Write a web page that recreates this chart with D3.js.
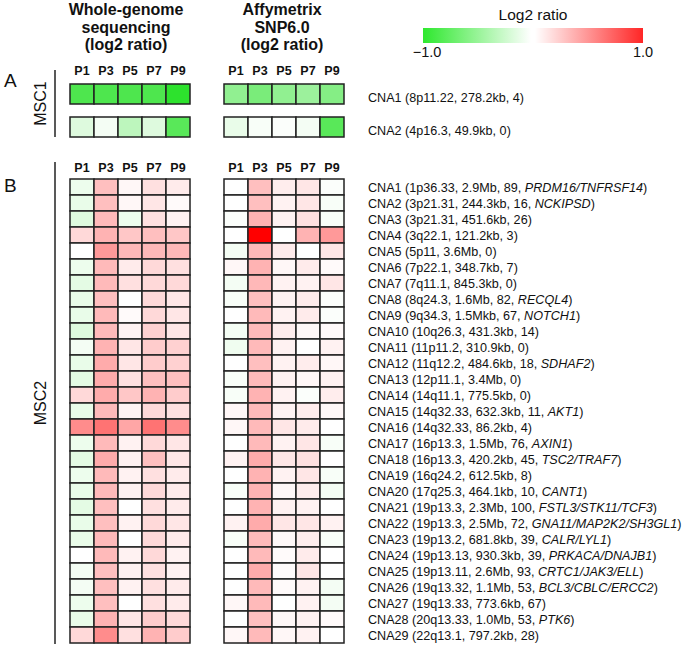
<!DOCTYPE html>
<html lang="en">
<head>
<meta charset="UTF-8">
<title>CNA heatmap</title>
<script src="https://d3js.org/d3.v7.min.js"></script>
<style>
    body { margin: 0; background: #fff; }
    text { font-family: "Liberation Sans", Arial, sans-serif; fill: #111; }
</style>
</head>
<body>
<div id="chart"></div>
<script>
    var passages = ["P1", "P3", "P5", "P7", "P9"];

    // panel A (MSC1)
    var aNames = ["CNA1", "CNA2"];
    var aLoci = ["8p11.22, 278.2kb, 4", "4p16.3, 49.9kb, 0"];
    var aGenes = ["", ""];
    var aWgs = [
        [-0.8, -0.8, -0.8, -0.8, -0.95],
        [-0.15, -0.05, -0.3, -0.15, -0.75]
    ];
    var aSnp = [
        [-0.5, -0.6, -0.5, -0.45, -0.55],
        [-0.1, -0.03, -0.02, -0.05, -0.75]
    ];

    // panel B (MSC2)
    var bNames = d3.range(1, 30).map(function (i) { return "CNA" + i; });
    var bLoci = [
        "1p36.33, 2.9Mb, 89", "3p21.31, 244.3kb, 16", "3p21.31, 451.6kb, 26", "3q22.1, 121.2kb, 3",
        "5p11, 3.6Mb, 0", "7p22.1, 348.7kb, 7", "7q11.1, 845.3kb, 0", "8q24.3, 1.6Mb, 82",
        "9q34.3, 1.5Mkb, 67", "10q26.3, 431.3kb, 14", "11p11.2, 310.9kb, 0", "11q12.2, 484.6kb, 18",
        "12p11.1, 3.4Mb, 0", "14q11.1, 775.5kb, 0", "14q32.33, 632.3kb, 11", "14q32.33, 86.2kb, 4",
        "16p13.3, 1.5Mb, 76", "16p13.3, 420.2kb, 45", "16q24.2, 612.5kb, 8", "17q25.3, 464.1kb, 10",
        "19p13.3, 2.3Mb, 100", "19p13.3, 2.5Mb, 72", "19p13.2, 681.8kb, 39", "19p13.13, 930.3kb, 39",
        "19p13.11, 2.6Mb, 93", "19q13.32, 1.1Mb, 53", "19q13.33, 773.6kb, 67", "20q13.33, 1.0Mb, 53",
        "22q13.1, 797.2kb, 28"
    ];
    var bGenes = [
        "PRDM16/TNFRSF14", "NCKIPSD", "", "", "", "", "", "RECQL4",
        "NOTCH1", "", "", "SDHAF2", "", "", "AKT1", "",
        "AXIN1", "TSC2/TRAF7", "", "CANT1", "FSTL3/STK11/TCF3", "GNA11/MAP2K2/SH3GL1", "CALR/LYL1", "PRKACA/DNAJB1",
        "CRTC1/JAK3/ELL", "BCL3/CBLC/ERCC2", "", "PTK6", ""
    ];
    var bWgs = [
        [-0.08, 0.25, 0.03, 0.12, 0.08],
        [-0.1, 0.25, 0.03, 0.1, 0.02],
        [-0.15, 0.27, -0.08, 0.12, 0.05],
        [0.15, 0.3, 0.22, 0.25, 0.22],
        [0.0, 0.4, 0.28, 0.28, 0.28],
        [-0.08, 0.27, 0.08, 0.15, 0.12],
        [-0.12, 0.27, 0.12, 0.15, 0.15],
        [-0.1, 0.25, 0.0, 0.15, 0.1],
        [-0.1, 0.27, 0.02, 0.15, 0.1],
        [-0.15, 0.27, 0.05, 0.18, 0.1],
        [-0.05, 0.3, 0.1, 0.2, 0.18],
        [-0.1, 0.33, 0.1, 0.2, 0.18],
        [-0.12, 0.33, 0.12, 0.25, 0.25],
        [0.15, 0.33, 0.22, 0.3, 0.2],
        [-0.1, 0.27, 0.05, 0.15, 0.12],
        [0.45, 0.55, 0.35, 0.55, 0.45],
        [-0.08, 0.27, 0.05, 0.15, 0.1],
        [-0.12, 0.33, 0.05, 0.25, 0.1],
        [-0.08, 0.27, 0.05, 0.12, 0.08],
        [-0.1, 0.27, 0.05, 0.15, 0.08],
        [-0.12, 0.25, 0.0, 0.12, 0.08],
        [-0.1, 0.25, 0.05, 0.15, 0.1],
        [-0.1, 0.27, 0.0, 0.15, 0.08],
        [0.0, 0.27, 0.05, 0.15, 0.05],
        [-0.05, 0.25, 0.05, 0.12, 0.05],
        [-0.05, 0.25, 0.05, 0.12, 0.08],
        [-0.08, 0.25, 0.0, 0.12, 0.08],
        [-0.1, 0.3, 0.1, 0.2, 0.15],
        [0.15, 0.45, 0.12, 0.3, 0.2]
    ];
    var bSnp = [
        [0.0, 0.25, 0.07, 0.1, -0.02],
        [0.0, 0.25, 0.05, 0.1, -0.03],
        [-0.02, 0.3, 0.05, 0.12, -0.03],
        [0.0, 1.0, 0.0, 0.3, 0.4],
        [-0.05, 0.28, 0.08, 0.0, 0.1],
        [0.03, 0.3, 0.03, 0.08, 0.02],
        [-0.05, 0.28, 0.05, 0.05, 0.1],
        [-0.03, 0.25, 0.05, 0.08, -0.02],
        [0.0, 0.27, 0.05, 0.08, -0.02],
        [-0.05, 0.27, 0.07, 0.03, 0.02],
        [-0.07, 0.27, 0.05, 0.0, 0.05],
        [0.0, 0.25, 0.05, 0.07, 0.03],
        [-0.03, 0.27, 0.05, 0.03, 0.05],
        [-0.03, 0.3, 0.05, -0.02, 0.07],
        [0.03, 0.27, 0.05, 0.07, 0.03],
        [0.03, 0.27, 0.1, 0.08, 0.0],
        [0.0, 0.27, 0.05, 0.1, -0.03],
        [0.05, 0.33, 0.1, 0.12, 0.0],
        [0.0, 0.3, 0.05, 0.1, -0.03],
        [-0.03, 0.3, 0.03, 0.07, -0.05],
        [0.0, 0.3, 0.05, 0.05, 0.0],
        [0.05, 0.33, 0.1, 0.1, 0.05],
        [-0.03, 0.27, 0.03, 0.07, -0.03],
        [0.0, 0.27, 0.02, 0.08, 0.0],
        [0.0, 0.33, 0.02, 0.1, 0.0],
        [0.0, 0.27, 0.02, 0.05, -0.05],
        [0.03, 0.27, 0.0, 0.05, -0.05],
        [0.0, 0.25, 0.03, 0.05, 0.02],
        [0.03, 0.27, 0.03, 0.05, 0.0]
    ];

    var w = 685, h = 649;
    var svg = d3.select("#chart").append("svg")
        .attr("width", w)
        .attr("height", h);

    var color = d3.scaleLinear()
        .domain([-1, 0, 1])
        .range(["#22e022", "#ffffff", "#ff0000"])
        .clamp(true);

    var xWgs = d3.scaleBand(passages, [70, 190]);
    var xSnp = d3.scaleBand(passages, [224, 344]);
    var yA = d3.scaleBand(aNames, [84, 137]).paddingInner(0.394);
    var yB = d3.scaleBand(bNames, [179, 643]);

    function drawGrid(values, names, x, y) {
        var cells = [];
        values.forEach(function (row, i) {
            row.forEach(function (v, j) {
                cells.push({ row: names[i], col: passages[j], v: v });
            });
        });
        svg.append("g").selectAll("rect")
            .data(cells)
            .enter()
            .append("rect")
            .attr("x", function (d) { return x(d.col); })
            .attr("y", function (d) { return y(d.row); })
            .attr("width", x.bandwidth())
            .attr("height", y.bandwidth())
            .attr("fill", function (d) { return color(d.v); })
            .attr("stroke", "#222")
            .attr("stroke-width", 1.5);
    }

    function colLabels(x, yPos) {
        svg.append("g").selectAll("text")
            .data(passages)
            .enter()
            .append("text")
            .attr("x", function (d) { return x(d) + x.bandwidth() / 2; })
            .attr("y", yPos)
            .attr("text-anchor", "middle")
            .style("font-size", "12.5px")
            .style("font-weight", "bold")
            .text(function (d) { return d; });
    }

    function rowLabels(names, loci, genes, y, dy) {
        var t = svg.append("g").selectAll("text")
            .data(names)
            .enter()
            .append("text")
            .attr("x", 368)
            .attr("y", function (d) { return y(d) + y.bandwidth() / 2 + dy; })
            .style("font-size", "12.6px");
        t.append("tspan").text(function (d, i) { return d + " (" + loci[i] + (genes[i] ? ", " : ""); });
        t.append("tspan").style("font-style", "italic").text(function (d, i) { return genes[i]; });
        t.append("tspan").text(")");
    }

    drawGrid(aWgs, aNames, xWgs, yA);
    drawGrid(aSnp, aNames, xSnp, yA);
    drawGrid(bWgs, bNames, xWgs, yB);
    drawGrid(bSnp, bNames, xSnp, yB);

    colLabels(xWgs, 75);
    colLabels(xSnp, 75);
    colLabels(xWgs, 172);
    colLabels(xSnp, 172);

    rowLabels(aNames, aLoci, aGenes, yA, 8);
    rowLabels(bNames, bLoci, bGenes, yB, 4.5);

    // column titles
    var titles = [
        { x: 126, lines: ["Whole-genome", "sequencing", "(log2 ratio)"] },
        { x: 282, lines: ["Affymetrix", "SNP6.0", "(log2 ratio)"] }
    ];
    titles.forEach(function (t) {
        svg.append("g").selectAll("text")
            .data(t.lines)
            .enter()
            .append("text")
            .attr("x", t.x)
            .attr("y", function (d, i) { return 15 + i * 17.5; })
            .attr("text-anchor", "middle")
            .style("font-size", "16px")
            .style("font-weight", "bold")
            .text(function (d) { return d; });
    });

    // panel letters and sample groups
    svg.append("text").attr("x", 4).attr("y", 87).style("font-size", "19px").text("A");
    svg.append("text").attr("x", 4).attr("y", 192).style("font-size", "19px").text("B");

    var groups = [
        { name: "MSC1", y0: 70, y1: 137 },
        { name: "MSC2", y0: 162, y1: 644 }
    ];
    groups.forEach(function (g) {
        svg.append("line")
            .attr("x1", 55).attr("x2", 55)
            .attr("y1", g.y0).attr("y2", g.y1)
            .attr("stroke", "#222")
            .attr("stroke-width", 1.5);
        svg.append("text")
            .attr("transform", "translate(46," + ((g.y0 + g.y1) / 2) + ")rotate(-90)")
            .attr("text-anchor", "middle")
            .style("font-size", "16px")
            .text(g.name);
    });

    // legend
    var legendDomain = [-1, 1];
    var lx = d3.scaleLinear().domain(legendDomain).range([423, 643]);
    var defs = svg.append("defs");
    var gNeg = defs.append("linearGradient").attr("id", "gneg");
    gNeg.append("stop").attr("offset", "0%").attr("stop-color", "#2ee82e");
    gNeg.append("stop").attr("offset", "100%").attr("stop-color", color(0));
    var gPos = defs.append("linearGradient").attr("id", "gpos");
    gPos.append("stop").attr("offset", "0%").attr("stop-color", color(0));
    gPos.append("stop").attr("offset", "100%").attr("stop-color", "#ff2626");

    svg.append("rect")
        .attr("x", lx(-1)).attr("y", 28)
        .attr("width", lx(0) - lx(-1) - 2).attr("height", 15)
        .attr("fill", "url(#gneg)");
    svg.append("rect")
        .attr("x", lx(0) + 2).attr("y", 28)
        .attr("width", lx(1) - lx(0) - 2).attr("height", 15)
        .attr("fill", "url(#gpos)");

    svg.append("text")
        .attr("x", lx(0)).attr("y", 20)
        .attr("text-anchor", "middle")
        .style("font-size", "15.5px")
        .text("Log2 ratio");
    svg.append("g").selectAll("text")
        .data(legendDomain)
        .enter()
        .append("text")
        .attr("x", function (d) { return lx(d) + (d < 0 ? 4 : 0); })
        .attr("y", 57)
        .attr("text-anchor", "middle")
        .style("font-size", "14.5px")
        .text(function (d) { return d3.format(".1f")(d); });
</script>
</body>
</html>
